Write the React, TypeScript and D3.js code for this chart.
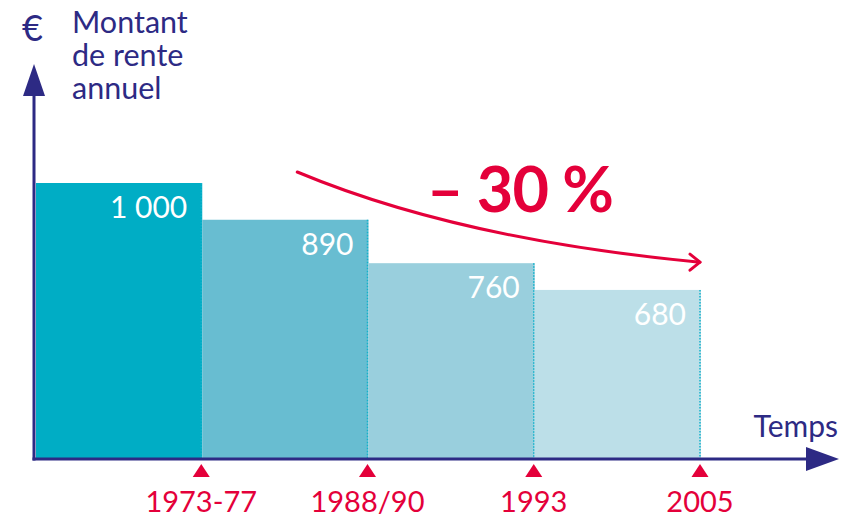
import React from 'react';
import * as d3 from 'd3';

const periods = ['1973-77', '1988/90', '1993', '2005'];
const rentes = [1000, 890, 760, 680];
const valueLabels = ['1 000', '890', '760', '680'];
const barColors = ['#00adc5', '#68bdd1', '#99cfdd', '#bcdfe8'];
const titleLines = ['Montant', 'de rente', 'annuel'];

const W = 859;
const H = 519;
const NAVY = '#2d2a84';
const RED = '#e4003a';
const FONT = 'Lato, "Open Sans", sans-serif';

const App: React.FC = () => {
    const x0 = 35;
    const base = 459;

    // bars sit edge to edge, labels go under the right edge of each bar
    const x = d3.scaleLinear().domain([0, periods.length]).range([x0, 700]);
    // the original is not drawn from zero
    const y = d3.scaleLinear().domain([174, 1000]).range([base, 183]);

    const arc = d3.path();
    arc.moveTo(x(1) + 96, y(1000) - 11);
    arc.quadraticCurveTo(x(2) + 92, y(890) + 20, x(4), y(760) - 1);

    const tip = { x: x(4), y: y(760) - 1 };

    return (
        <svg
            width={W}
            height={H}
            style={{ position: 'absolute', left: 0, top: 0, display: 'block', background: '#fff' }}
        >
            {rentes.map((v, i) => (
                <g key={periods[i]}>
                    <rect
                        x={x(i) + 1}
                        y={y(v)}
                        width={x(i + 1) - x(i)}
                        height={base - y(v)}
                        fill={barColors[i]}
                    />
                    <line
                        x1={x(i + 1)}
                        x2={x(i + 1)}
                        y1={y(v)}
                        y2={base}
                        stroke="#13b2cb"
                        strokeWidth={1.5}
                        strokeDasharray="1.5,1.5"
                    />
                    <text
                        x={x(i + 1) - 14}
                        y={y(v) + 35}
                        textAnchor="end"
                        fill="#fff"
                        fontFamily={FONT}
                        fontSize={30}
                    >
                        {valueLabels[i]}
                    </text>
                </g>
            ))}

            {/* axes */}
            <line x1={x0 - 1} x2={x0 - 1} y1={base + 1.5} y2={90} stroke={NAVY} strokeWidth={3} />
            <path d={`M${x0 - 1},64 L${x0 - 12},96 L${x0 + 10},96 Z`} fill={NAVY} />
            <line x1={x0 - 2.5} x2={812} y1={base} y2={base} stroke={NAVY} strokeWidth={3} />
            <path d={`M839,${base} L806,${base - 12} L806,${base + 12} Z`} fill={NAVY} />

            {periods.map((p, i) => (
                <g key={p} transform={`translate(${x(i + 1)},0)`}>
                    <path d={`M0,${base + 5} L-8.5,${base + 18} L8.5,${base + 18} Z`} fill={RED} />
                    <text
                        y={base + 53}
                        textAnchor="middle"
                        fill={RED}
                        fontFamily={FONT}
                        fontSize={29}
                    >
                        {p}
                    </text>
                </g>
            ))}

            <text x={22} y={41} fill={NAVY} fontFamily={FONT} fontSize={36}>€</text>
            {titleLines.map((t, i) => (
                <text
                    key={t}
                    x={72}
                    y={33 + i * 33}
                    fill={NAVY}
                    fontFamily={FONT}
                    fontSize={30.5}
                >
                    {t}
                </text>
            ))}
            <text x={838} y={437} textAnchor="end" fill={NAVY} fontFamily={FONT} fontSize={30}>
                Temps
            </text>

            {/* trend annotation */}
            <path d={arc.toString()} fill="none" stroke={RED} strokeWidth={3} strokeLinecap="round" />
            <path
                d={`M${tip.x - 10},${tip.y - 8} L${tip.x},${tip.y} L${tip.x - 10},${tip.y + 8}`}
                fill="none"
                stroke={RED}
                strokeWidth={3}
                strokeLinecap="round"
                strokeLinejoin="round"
            />
            <text
                x={427}
                y={212}
                fill={RED}
                fontFamily={FONT}
                fontWeight={700}
                fontSize={63}
                letterSpacing={-1}
            >
                – 30 %
            </text>
        </svg>
    );
};

export default App;
